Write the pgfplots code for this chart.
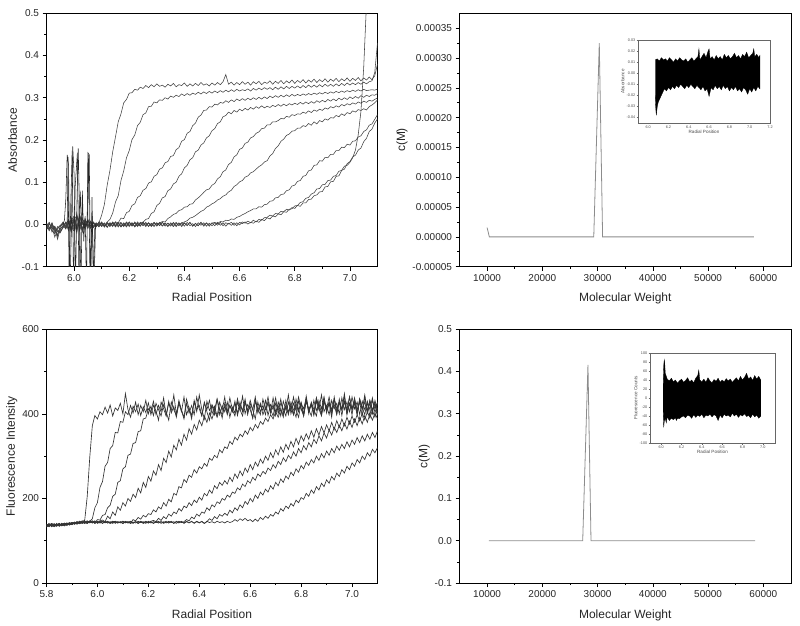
\documentclass[border=0pt]{standalone}
\usepackage{pgfplots}
\pgfplotsset{compat=1.18}
\usepackage{pgfplotstable}
\usepackage{fontspec}
\setmainfont{Liberation Sans}

\pgfplotsset{
  panel/.style={scale only axis, anchor=south west, axis line style={black, line width=0.8pt},
    tick align=outside, tick pos=left, major tick length=4pt, minor tick length=2.2pt,
    every tick/.append style={black, line width=0.6pt},
    tick label style={font=\fontsize{10}{12}\selectfont, text=black!85},
    label style={font=\fontsize{12}{14}\selectfont, text=black!85},
    xlabel style={yshift=-5pt}, ylabel style={yshift=-2pt},
    /pgf/number format/assume math mode=true, scaled ticks=false, clip=true,
    minor x tick num=1, minor y tick num=1},
  inset/.style={scale only axis, anchor=south west, axis line style={black!60, line width=0.4pt},
    tick align=outside, tick pos=left, major tick length=1.5pt, minor tick length=0.8pt,
    every tick/.append style={black!60, line width=0.3pt},
    tick label style={font=\fontsize{3.8}{4}\selectfont, text=black!70, inner sep=1pt},
    label style={font=\fontsize{4.6}{5}\selectfont, text=black!70, inner sep=1pt},
    /pgf/number format/assume math mode=true, scaled ticks=false, clip=true},
  fix1/.style={/pgf/number format/fixed, /pgf/number format/fixed zerofill, /pgf/number format/precision=1},
  curveA/.style={draw=black!75, line width=0.55pt, no marks},
  curveC/.style={draw=black!80, line width=0.65pt, no marks},
}

% Panel A: absorbance scans
\pgfplotstableread{
x a b c d e f g h i
5.90 -0.004 -0.010 0.002 -0.006 -0.012 0.003 -0.008 -0.002 -0.005
5.91 -0.012 0.004 -0.008 -0.015 0.002 -0.006 -0.010 0.005 -0.009
5.92 0.003 -0.018 -0.005 0.001 -0.009 -0.014 0.004 -0.011 -0.002
5.93 -0.020 -0.006 -0.030 -0.010 -0.004 -0.022 -0.013 -0.007 -0.016
5.94 -0.008 -0.035 -0.012 -0.025 -0.016 -0.005 -0.028 -0.018 -0.010
5.95 -0.002 -0.010 -0.018 -0.004 -0.020 -0.012 -0.006 -0.015 -0.003
5.96 0.004 -0.003 -0.008 0.006 -0.005 -0.002 0.003 -0.007 0.001
5.97 -0.006 0.005 0.002 -0.009 0.004 -0.011 -0.004 0.006 -0.008
5.98 0.008 -0.012 0.010 0.003 -0.015 0.006 0.012 -0.010 0.004
5.99 -0.010 0.015 -0.014 0.012 0.009 -0.018 -0.006 0.014 -0.012
6.00 0.012 -0.008 0.018 -0.015 0.020 0.010 -0.016 0.004 0.015
6.01 -0.015 0.020 -0.006 0.025 -0.012 0.022 0.018 -0.020 -0.006
6.02 0.018 -0.004 0.024 -0.010 0.006 -0.015 0.008 0.022 0.010
6.03 0.006 0.012 -0.012 0.015 -0.018 0.005 -0.010 0.006 -0.014
6.04 -0.008 0.004 0.010 -0.006 0.012 -0.004 0.014 -0.012 0.008
6.05 0.010 -0.010 0.004 0.008 -0.004 0.012 -0.006 0.010 -0.004
6.06 -0.004 0.008 -0.009 0.002 0.007 -0.008 0.005 -0.003 0.006
6.07 0.005 -0.006 0.003 -0.007 -0.002 0.004 -0.008 0.006 -0.005
6.08 -0.003 0.002 -0.005 0.004 -0.006 0.001 0.003 -0.004 0.002
6.09 0.004 -0.005 0.006 -0.002 0.003 -0.006 -0.001 0.005 -0.004
6.10 0.022 0.003 -0.002 0.005 -0.005 0.004 0.006 -0.003 0.003
6.11 0.048 -0.004 0.004 -0.006 0.002 -0.003 -0.004 0.002 -0.006
6.12 0.093 0.006 -0.006 0.003 -0.007 0.005 0.002 -0.006 0.004
6.13 0.128 0.012 0.002 -0.004 0.004 -0.002 -0.005 0.004 -0.002
6.14 0.172 0.027 -0.005 0.006 -0.003 0.003 0.004 -0.002 0.005
6.15 0.207 0.053 0.006 -0.002 0.005 -0.006 -0.003 0.006 -0.003
6.16 0.243 0.068 0.004 0.004 -0.006 0.002 0.005 -0.004 0.002
6.17 0.262 0.104 0.015 -0.005 0.003 0.005 -0.006 0.003 -0.005
6.18 0.288 0.127 0.014 0.002 -0.004 -0.003 0.002 -0.005 0.004
6.19 0.296 0.158 0.028 -0.006 0.006 0.004 -0.004 0.005 -0.002
6.20 0.311 0.175 0.031 0.005 -0.002 -0.005 0.006 -0.003 0.005
6.21 0.312 0.201 0.045 -0.003 0.004 0.003 -0.002 0.004 -0.004
6.22 0.320 0.212 0.049 0.006 -0.005 -0.004 0.004 -0.006 0.003
6.23 0.318 0.234 0.064 -0.002 0.003 0.006 -0.005 0.002 -0.003
6.24 0.325 0.242 0.068 0.004 -0.004 -0.002 0.003 -0.004 0.005
6.25 0.322 0.260 0.081 0.005 0.006 0.004 -0.003 0.005 -0.002
6.26 0.329 0.264 0.085 0.012 -0.003 -0.005 0.005 -0.002 0.004
6.27 0.324 0.279 0.098 0.014 0.004 0.003 -0.004 0.004 -0.005
6.28 0.331 0.280 0.101 0.026 -0.002 -0.003 0.002 -0.005 0.003
6.29 0.326 0.290 0.114 0.030 0.005 0.005 -0.005 0.003 -0.003
6.30 0.333 0.288 0.118 0.045 -0.004 -0.002 0.004 -0.002 0.004
6.31 0.327 0.295 0.131 0.050 0.003 0.004 -0.003 0.005 -0.002
6.32 0.330 0.294 0.134 0.063 0.007 -0.004 0.005 -0.003 0.005
6.33 0.325 0.300 0.146 0.066 0.006 0.003 -0.002 0.004 -0.004
6.34 0.332 0.297 0.149 0.080 0.014 -0.005 0.003 -0.004 0.003
6.35 0.328 0.304 0.161 0.084 0.018 0.004 -0.004 0.002 -0.002
6.36 0.334 0.301 0.163 0.096 0.024 -0.002 0.005 -0.005 0.004
6.37 0.326 0.306 0.177 0.100 0.026 0.005 -0.003 0.003 -0.005
6.38 0.331 0.303 0.182 0.114 0.033 -0.003 0.004 -0.002 0.003
6.39 0.329 0.309 0.197 0.120 0.035 0.004 -0.005 0.004 -0.002
6.40 0.335 0.305 0.201 0.134 0.041 0.006 0.003 -0.004 0.004
6.41 0.327 0.310 0.216 0.140 0.042 0.009 -0.002 0.005 -0.003
6.42 0.333 0.306 0.220 0.153 0.048 0.015 0.005 -0.003 0.005
6.43 0.328 0.311 0.234 0.158 0.049 0.017 -0.004 0.002 -0.004
6.44 0.334 0.308 0.240 0.172 0.058 0.021 0.003 -0.005 0.002
6.45 0.329 0.313 0.254 0.176 0.063 0.026 -0.003 0.004 -0.003
6.46 0.336 0.309 0.259 0.188 0.069 0.031 0.005 -0.002 0.005
6.47 0.330 0.314 0.270 0.193 0.076 0.034 -0.002 0.004 -0.004
6.48 0.333 0.310 0.271 0.205 0.082 0.041 0.004 -0.004 0.003
6.49 0.328 0.315 0.279 0.210 0.084 0.044 -0.004 0.003 -0.002
6.50 0.335 0.311 0.278 0.222 0.093 0.049 0.003 -0.003 0.004
6.51 0.330 0.316 0.285 0.227 0.097 0.052 0.005 0.004 -0.003
6.52 0.336 0.312 0.283 0.239 0.108 0.058 0.002 -0.002 0.005
6.53 0.331 0.317 0.289 0.243 0.113 0.061 0.007 0.005 -0.002
6.54 0.338 0.313 0.287 0.255 0.125 0.067 0.006 -0.003 0.004
6.55 0.355 0.318 0.293 0.258 0.129 0.070 0.010 0.004 -0.004
6.56 0.332 0.314 0.289 0.266 0.142 0.077 0.009 0.001 0.003
6.57 0.337 0.319 0.295 0.262 0.147 0.081 0.013 0.005 -0.002
6.58 0.330 0.315 0.291 0.270 0.160 0.090 0.012 -0.002 0.004
6.59 0.336 0.320 0.297 0.266 0.165 0.094 0.017 0.004 -0.003
6.60 0.331 0.316 0.293 0.273 0.178 0.101 0.019 -0.001 0.005
6.61 0.338 0.319 0.298 0.269 0.181 0.104 0.023 0.006 0.002
6.62 0.332 0.317 0.294 0.275 0.192 0.112 0.026 0.003 0.006
6.63 0.337 0.321 0.299 0.271 0.195 0.115 0.030 0.008 0.001
6.64 0.330 0.316 0.295 0.277 0.205 0.122 0.033 0.004 0.005
6.65 0.338 0.322 0.300 0.273 0.208 0.125 0.037 0.010 0.003
6.66 0.333 0.318 0.296 0.279 0.216 0.131 0.037 0.006 0.008
6.67 0.339 0.323 0.301 0.275 0.219 0.137 0.042 0.012 0.005
6.68 0.331 0.319 0.297 0.281 0.227 0.141 0.041 0.010 0.012
6.69 0.337 0.324 0.302 0.276 0.228 0.148 0.047 0.016 0.009
6.70 0.334 0.320 0.298 0.280 0.236 0.151 0.048 0.017 0.016
6.71 0.340 0.324 0.304 0.277 0.236 0.162 0.055 0.022 0.013
6.72 0.332 0.319 0.300 0.282 0.243 0.168 0.056 0.020 0.020
6.73 0.339 0.325 0.305 0.279 0.243 0.180 0.063 0.026 0.018
6.74 0.334 0.320 0.301 0.284 0.246 0.186 0.064 0.025 0.025
6.75 0.341 0.326 0.306 0.280 0.251 0.197 0.071 0.031 0.023
6.76 0.333 0.321 0.302 0.285 0.250 0.202 0.072 0.030 0.030
6.77 0.340 0.327 0.307 0.281 0.256 0.211 0.080 0.036 0.029
6.78 0.335 0.322 0.303 0.286 0.254 0.214 0.082 0.034 0.036
6.79 0.342 0.327 0.308 0.283 0.260 0.221 0.091 0.040 0.037
6.80 0.334 0.323 0.304 0.287 0.258 0.222 0.093 0.038 0.044
6.81 0.341 0.328 0.308 0.284 0.262 0.228 0.102 0.045 0.045
6.82 0.336 0.323 0.305 0.289 0.261 0.228 0.104 0.043 0.052
6.83 0.343 0.329 0.309 0.285 0.266 0.234 0.114 0.051 0.054
6.84 0.335 0.324 0.306 0.290 0.263 0.232 0.116 0.051 0.062
6.85 0.342 0.330 0.310 0.286 0.269 0.239 0.127 0.059 0.064
6.86 0.337 0.325 0.307 0.291 0.265 0.235 0.129 0.060 0.072
6.87 0.344 0.330 0.311 0.287 0.271 0.243 0.140 0.068 0.075
6.88 0.336 0.325 0.308 0.293 0.268 0.238 0.141 0.070 0.084
6.89 0.343 0.331 0.312 0.289 0.273 0.246 0.151 0.077 0.085
6.90 0.338 0.326 0.309 0.294 0.270 0.243 0.150 0.078 0.094
6.91 0.345 0.332 0.313 0.290 0.276 0.250 0.159 0.089 0.095
6.92 0.337 0.327 0.310 0.296 0.273 0.247 0.158 0.090 0.104
6.93 0.344 0.332 0.314 0.292 0.279 0.253 0.166 0.101 0.105
6.94 0.339 0.327 0.311 0.297 0.276 0.252 0.166 0.102 0.114
6.95 0.346 0.333 0.315 0.293 0.281 0.258 0.175 0.114 0.116
6.96 0.338 0.328 0.312 0.299 0.278 0.255 0.175 0.115 0.126
6.97 0.345 0.334 0.316 0.295 0.284 0.262 0.183 0.128 0.128
6.98 0.340 0.329 0.313 0.300 0.281 0.258 0.182 0.131 0.138
6.99 0.347 0.335 0.317 0.296 0.286 0.265 0.190 0.144 0.140
7.00 0.339 0.330 0.314 0.302 0.283 0.262 0.188 0.149 0.147
7.01 0.346 0.335 0.318 0.298 0.288 0.269 0.197 0.160 0.158
7.02 0.341 0.331 0.315 0.303 0.285 0.266 0.198 0.164 0.176
7.03 0.348 0.336 0.319 0.299 0.290 0.272 0.207 0.176 0.212
7.04 0.340 0.332 0.316 0.305 0.287 0.270 0.210 0.181 0.268
7.05 0.347 0.337 0.320 0.301 0.292 0.274 0.220 0.196 0.372
7.06 0.342 0.333 0.317 0.306 0.289 0.271 0.224 0.204 0.522
7.07 0.349 0.338 0.318 0.303 0.294 0.279 0.235 0.220 0.700
7.08 0.343 0.340 0.319 0.307 0.292 0.283 0.238 0.226 0.900
7.09 0.352 0.360 0.318 0.306 0.296 0.288 0.249 0.240 0.900
7.10 0.380 0.430 0.321 0.310 0.300 0.295 0.260 0.250 0.900
}\tabA

% Panel A: meniscus artefact spikes
\pgfplotstableread{
x y
5.960 0.000
5.965 0.010
5.970 0.060
5.975 0.165
5.980 0.140
5.985 -0.150
5.990 -0.020
5.995 0.185
6.000 0.120
6.005 -0.150
6.010 0.040
6.015 0.180
6.020 0.030
6.025 -0.150
6.030 0.080
6.035 -0.040
6.040 0.020
6.045 -0.150
6.050 0.170
6.055 0.165
6.060 -0.150
6.065 0.065
6.070 -0.150
6.075 -0.010
6.080 0.000
}\tabSpikeA
\pgfplotstableread{
x y
5.975 0.000
5.978 0.160
5.982 -0.150
5.988 0.050
5.993 0.175
5.998 -0.150
6.004 0.090
6.012 0.170
6.018 -0.150
6.022 0.080
6.028 0.000
6.048 0.000
6.052 0.165
6.058 -0.150
6.066 0.020
6.072 -0.150
6.078 0.000
}\tabSpikeB

% Panel C: fluorescence scans
\pgfplotstableread{
x a b c d e f g h i
5.80 137 133 139 135 138 134 136 140 132
5.81 134 138 135 139 133 137 141 135 138
5.82 139 135 140 134 138 141 133 137 136
5.83 136 140 134 139 135 138 137 133 140
5.84 140 136 138 135 141 134 139 137 135
5.85 135 139 141 137 134 140 136 141 138
5.86 141 137 136 140 138 135 141 136 139
5.87 137 142 139 136 141 139 135 140 137
5.88 142 138 141 140 136 142 139 137 141
5.89 139 143 137 142 140 137 142 141 138
5.90 143 139 142 138 143 141 138 143 140
5.91 140 144 140 143 139 144 142 139 143
5.92 144 141 145 140 144 140 145 142 139
5.93 141 145 142 146 141 143 140 146 144
5.94 146 142 144 141 145 147 143 141 145
5.95 148 144 141 145 142 144 146 144 141
5.96 205 141 146 142 146 141 142 147 144
5.97 298 146 143 147 143 145 146 142 146
5.98 372 152 147 143 147 142 143 145 142
5.99 396 178 142 146 141 146 147 141 145
6.00 388 190 150 142 145 143 141 146 143
6.01 405 226 149 147 142 145 144 142 146
6.02 398 240 160 149 146 141 146 145 141
6.03 416 276 162 145 143 146 142 143 145
6.04 402 285 178 158 145 142 145 146 142
6.05 421 318 184 152 141 145 143 141 144
6.06 395 325 205 168 146 143 146 144 141
6.07 414 356 210 160 143 146 141 146 145
6.08 408 355 238 180 145 142 145 142 142
6.09 425 382 242 172 142 145 143 145 144
6.10 400 380 270 190 146 141 146 141 141
6.11 448 405 275 182 143 146 142 144 145
6.12 410 398 302 200 145 143 145 142 142
6.13 392 420 305 193 141 146 141 146 144
6.14 418 402 330 210 150 142 144 143 141
6.15 405 428 332 202 147 145 142 145 145
6.16 423 398 358 224 155 141 146 141 142
6.17 396 420 360 213 151 146 143 144 145
6.18 417 405 388 238 160 143 145 142 141
6.19 403 432 390 226 156 145 141 146 144
6.20 426 400 412 252 164 142 146 143 142
6.21 398 418 405 241 162 146 142 145 145
6.22 420 396 430 265 173 148 145 141 141
6.23 407 425 398 255 168 145 143 146 144
6.24 385 410 420 280 180 153 146 142 142
6.25 428 395 405 266 175 148 141 145 145
6.26 412 422 438 295 190 157 145 143 141
6.27 395 405 396 285 182 152 142 146 144
6.28 430 385 425 312 198 163 146 142 142
6.29 402 428 408 298 192 158 143 145 146
6.30 418 410 445 326 212 168 145 141 141
6.31 392 396 400 315 208 164 141 146 145
6.32 425 432 428 340 228 176 146 143 142
6.33 405 408 410 326 225 170 143 145 146
6.34 440 388 392 352 245 182 145 142 141
6.35 398 425 435 338 238 178 150 146 145
6.36 415 402 412 365 255 190 147 143 142
6.37 388 420 396 352 250 183 156 145 146
6.38 432 398 428 375 268 196 152 142 141
6.39 410 440 405 362 260 190 163 146 145
6.40 420 412 445 385 275 203 158 143 142
6.41 396 395 410 372 270 196 168 145 146
6.42 428 425 388 395 283 212 165 141 141
6.43 405 410 430 380 276 206 178 146 145
6.44 385 432 408 402 295 220 172 143 152
6.45 422 400 420 388 290 212 185 145 148
6.46 410 418 398 408 302 230 180 142 157
6.47 435 395 435 392 296 223 192 146 152
6.48 398 428 412 412 315 238 188 143 162
6.49 420 408 390 398 308 231 200 145 158
6.50 405 440 425 418 322 242 196 142 165
6.51 428 398 405 400 318 234 208 146 160
6.52 392 420 438 420 335 250 203 143 172
6.53 416 405 410 405 328 240 215 145 166
6.54 402 430 395 425 345 258 212 150 178
6.55 436 396 428 402 338 248 225 146 172
6.56 410 422 408 428 352 265 220 152 185
6.57 395 408 442 405 346 254 234 148 178
6.58 428 435 400 430 360 272 228 153 193
6.59 405 398 422 408 352 262 242 147 186
6.60 418 425 410 432 368 280 236 150 200
6.61 390 410 390 410 360 268 250 145 192
6.62 432 440 430 388 375 286 243 151 208
6.63 408 402 412 428 366 276 258 146 200
6.64 425 420 398 405 382 293 252 155 215
6.65 398 408 435 420 375 283 264 150 208
6.66 415 432 410 398 390 300 258 158 222
6.67 440 396 425 430 382 290 272 153 215
6.68 405 422 402 410 398 308 266 162 230
6.69 422 410 438 395 388 296 280 158 222
6.70 396 438 405 425 405 315 272 168 238
6.71 428 400 420 408 392 303 288 163 230
6.72 410 425 395 435 410 322 280 176 246
6.73 392 412 430 402 398 309 296 170 238
6.74 432 395 410 420 415 328 287 182 253
6.75 405 428 445 398 402 316 302 176 246
6.76 420 408 400 428 420 335 294 188 262
6.77 398 440 425 410 398 322 310 182 254
6.78 435 410 408 392 425 342 300 196 270
6.79 410 392 440 430 405 328 318 190 262
6.80 425 425 412 412 428 348 308 202 278
6.81 395 412 395 398 400 336 325 198 270
6.82 442 438 430 435 430 353 315 212 286
6.83 408 400 410 405 410 340 332 205 278
6.84 422 428 425 422 395 360 322 220 292
6.85 400 410 402 396 432 345 340 212 284
6.86 438 395 438 430 408 365 330 228 300
6.87 412 432 415 410 425 350 348 220 290
6.88 395 412 398 445 402 370 336 236 306
6.89 430 440 430 405 438 355 355 228 296
6.90 408 402 412 420 410 374 343 244 312
6.91 425 426 440 398 428 360 362 236 302
6.92 392 410 405 432 400 380 350 252 318
6.93 440 435 422 412 435 363 368 244 308
6.94 405 400 398 425 412 384 356 260 324
6.95 428 428 435 400 428 368 373 252 314
6.96 410 410 410 438 396 388 360 268 328
6.97 448 442 428 410 430 372 378 260 318
6.98 402 398 402 428 410 392 364 276 334
6.99 425 425 440 405 440 376 383 268 322
7.00 398 412 412 440 408 395 368 284 338
7.01 435 438 428 412 425 380 388 276 328
7.02 410 402 400 428 398 398 372 292 344
7.03 428 430 436 398 435 383 392 284 332
7.04 395 410 415 430 412 402 376 300 348
7.05 440 445 398 410 428 386 396 292 336
7.06 408 405 430 425 402 405 380 308 352
7.07 425 432 410 395 432 390 400 300 340
7.08 400 410 438 432 408 408 385 316 356
7.09 432 425 402 412 425 392 402 308 344
7.10 410 400 425 428 398 410 388 320 360
}\tabC

% Inset B residual band (upper envelope then lower envelope back)
\pgfplotstableread{
x y
6.070 0.012
6.090 0.013
6.110 0.011
6.130 0.014
6.150 0.012
6.170 0.013
6.190 0.011
6.210 0.014
6.230 0.012
6.250 0.010
6.270 0.013
6.290 0.011
6.310 0.014
6.330 0.012
6.350 0.011
6.370 0.013
6.390 0.010
6.410 0.012
6.430 0.014
6.450 0.011
6.470 0.013
6.490 0.015
6.500 0.022
6.510 0.012
6.530 0.015
6.550 0.018
6.570 0.014
6.590 0.020
6.600 0.022
6.610 0.013
6.630 0.015
6.650 0.012
6.670 0.016
6.690 0.013
6.710 0.015
6.730 0.012
6.750 0.017
6.770 0.014
6.790 0.016
6.810 0.013
6.830 0.015
6.850 0.018
6.870 0.014
6.890 0.016
6.910 0.013
6.930 0.017
6.950 0.015
6.970 0.019
6.990 0.014
7.010 0.016
7.030 0.018
7.040 0.022
7.050 0.015
7.070 0.017
7.090 0.014
7.100 0.016
7.100 -0.014
7.080 -0.012
7.060 -0.016
7.040 -0.013
7.020 -0.017
7.000 -0.014
6.980 -0.019
6.960 -0.015
6.940 -0.013
6.920 -0.017
6.900 -0.014
6.880 -0.016
6.860 -0.012
6.840 -0.015
6.820 -0.013
6.800 -0.016
6.780 -0.012
6.760 -0.014
6.740 -0.011
6.720 -0.015
6.700 -0.012
6.680 -0.014
6.660 -0.011
6.640 -0.015
6.620 -0.013
6.600 -0.021
6.580 -0.014
6.560 -0.016
6.540 -0.012
6.520 -0.015
6.500 -0.013
6.480 -0.011
6.460 -0.014
6.440 -0.012
6.420 -0.010
6.400 -0.013
6.380 -0.011
6.360 -0.014
6.340 -0.012
6.320 -0.010
6.300 -0.013
6.280 -0.011
6.260 -0.014
6.240 -0.012
6.220 -0.015
6.200 -0.013
6.180 -0.016
6.160 -0.014
6.140 -0.018
6.120 -0.022
6.100 -0.026
6.090 -0.030
6.080 -0.038
6.075 -0.032
6.070 -0.020
}\tabInsetB

% Inset D residual band
\pgfplotstableread{
x y
6.020 30
6.025 72
6.030 85
6.035 78
6.040 55
6.060 42
6.080 38
6.100 44
6.120 36
6.140 40
6.160 33
6.180 38
6.200 42
6.220 35
6.240 39
6.260 45
6.280 36
6.300 40
6.320 34
6.340 44
6.360 50
6.370 62
6.380 40
6.400 36
6.420 42
6.440 35
6.460 45
6.480 38
6.500 34
6.520 41
6.540 37
6.560 44
6.580 35
6.600 40
6.620 36
6.640 43
6.660 38
6.680 42
6.700 35
6.720 40
6.740 45
6.760 38
6.780 48
6.800 40
6.820 46
6.840 55
6.860 42
6.880 47
6.900 39
6.920 50
6.940 42
6.960 48
6.980 40
6.980 -40
6.960 -45
6.940 -38
6.920 -42
6.900 -36
6.880 -44
6.860 -39
6.840 -41
6.820 -35
6.800 -40
6.780 -37
6.760 -43
6.740 -36
6.720 -40
6.700 -34
6.680 -42
6.660 -38
6.640 -40
6.620 -36
6.600 -44
6.580 -38
6.560 -50
6.540 -40
6.520 -37
6.500 -42
6.480 -36
6.460 -40
6.440 -38
6.420 -44
6.400 -36
6.380 -41
6.360 -38
6.340 -43
6.320 -37
6.300 -45
6.280 -40
6.260 -38
6.240 -44
6.220 -40
6.200 -42
6.180 -46
6.160 -45
6.150 -50
6.140 -44
6.120 -48
6.100 -45
6.080 -50
6.060 -42
6.050 -55
6.040 -45
6.030 -52
6.025 -65
6.020 -30
}\tabInsetD

\begin{document}
\begin{tikzpicture}
\useasboundingbox (0,0) rectangle (800pt,625pt);

% ---------- Panel A ----------
\begin{axis}[panel, at={(46.5pt,358.3pt)}, width=331pt, height=253.4pt,
  xmin=5.9, xmax=7.1, ymin=-0.1, ymax=0.5,
  xtick={6.0,6.2,6.4,6.6,6.8,7.0}, ytick={-0.1,0,0.1,0.2,0.3,0.4,0.5},
  x tick label style={fix1}, y tick label style={fix1},
  xlabel={Radial Position}, ylabel={Absorbance}]
\pgfplotsinvokeforeach{a,b,c,d,e,f,g,h,i}{
  \addplot[curveA] table[x=x,y=#1]{\tabA};
}
\addplot[curveA, draw=black!85] table[x=x,y=y]{\tabSpikeA};
\addplot[curveA, draw=black!85] table[x=x,y=y]{\tabSpikeB};
\end{axis}

% ---------- Panel B ----------
\begin{axis}[panel, at={(459.5pt,358.3pt)}, width=331.5pt, height=253.4pt,
  xmin=5000, xmax=65000, ymin=-0.00005, ymax=0.000375,
  xtick={10000,20000,30000,40000,50000,60000},
  ytick={-0.00005,0,0.00005,0.0001,0.00015,0.0002,0.00025,0.0003,0.00035},
  x tick label style={/pgf/number format/1000 sep={}},
  y tick label style={/pgf/number format/fixed, /pgf/number format/fixed zerofill, /pgf/number format/precision=5},
  xlabel={Molecular Weight}, ylabel={c(M)}]
\addplot[draw=black!45, line width=0.8pt, no marks] coordinates {
 (10000,0.0000155) (10400,0) (29300,0) (30300,0.000325) (30900,0) (58300,0)};
\end{axis}

\begin{axis}[inset, at={(638pt,502pt)}, width=132pt, height=83pt,
  xmin=5.9, xmax=7.2, ymin=-0.045, ymax=0.03,
  xtick={6.0,6.2,6.4,6.6,6.8,7.0,7.2},
  ytick={-0.04,-0.03,-0.02,-0.01,0,0.01,0.02,0.03},
  x tick label style={fix1},
  y tick label style={/pgf/number format/fixed, /pgf/number format/fixed zerofill, /pgf/number format/precision=2},
  xlabel={Radial Position}, ylabel={Absorbance}]
\addplot[draw=black, fill=black, line width=0.3pt, no marks] table[x=x,y=y]{\tabInsetB};
\end{axis}

% ---------- Panel C ----------
\begin{axis}[panel, at={(46.5pt,42pt)}, width=331pt, height=253.7pt,
  xmin=5.8, xmax=7.1, ymin=0, ymax=600,
  xtick={5.8,6.0,6.2,6.4,6.6,6.8,7.0}, ytick={0,200,400,600},
  x tick label style={fix1},
  xlabel={Radial Position}, ylabel={Fluorescence Intensity}]
\pgfplotsinvokeforeach{a,b,c,d,e,f,g,h,i}{
  \addplot[curveC] table[x=x,y=#1]{\tabC};
}
\end{axis}

% ---------- Panel D ----------
\begin{axis}[panel, at={(459.5pt,42pt)}, width=331.5pt, height=254pt,
  xmin=5000, xmax=65000, ymin=-0.1, ymax=0.5,
  xtick={10000,20000,30000,40000,50000,60000},
  ytick={-0.1,0,0.1,0.2,0.3,0.4,0.5},
  x tick label style={/pgf/number format/1000 sep={}},
  y tick label style={fix1},
  xlabel={Molecular Weight}, ylabel={c(M)}]
\addplot[draw=black!45, line width=0.8pt, no marks] coordinates {
 (10300,0) (27300,0) (28250,0.415) (28800,0) (58500,0)};
\end{axis}

\begin{axis}[inset, at={(650pt,182pt)}, width=125pt, height=90pt,
  xmin=5.89, xmax=7.12, ymin=-100, ymax=100,
  xtick={6.0,6.2,6.4,6.6,6.8,7.0},
  ytick={-100,-80,-60,-40,-20,0,20,40,60,80,100},
  x tick label style={fix1},
  xlabel={Radial Position}, ylabel={Fluorescence Counts}]
\addplot[draw=black, fill=black, line width=0.3pt, no marks] table[x=x,y=y]{\tabInsetD};
\end{axis}
\end{tikzpicture}
\end{document}
